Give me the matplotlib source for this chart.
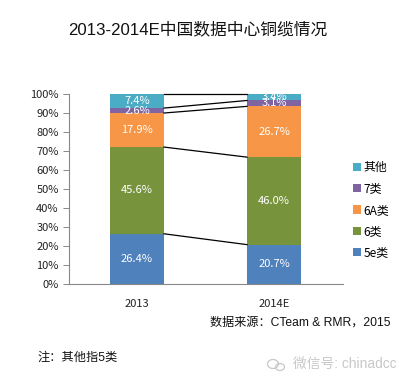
import matplotlib
matplotlib.use("Agg")
import matplotlib.pyplot as plt
from matplotlib.patches import Ellipse
import numpy as np

plt.rcParams['font.family'] = ['Noto Sans CJK SC', 'DejaVu Sans']
ARIAL = ['Liberation Sans', 'Noto Sans CJK SC']

years = ['2013', '2014E']
series = ['5e类', '6类', '6A类', '7类', '其他']
v_5e = [26.4, 20.7]
v_6 = [45.6, 46.0]
v_6a = [17.9, 26.7]
v_7 = [2.6, 3.1]
v_other = [7.4, 3.4]
yticks = [0, 10, 20, 30, 40, 50, 60, 70, 80, 90, 100]
colors = ['#4f81bd', '#77933c', '#f79646', '#8064a2', '#4bacc6']

W, H = 412, 384
fig = plt.figure(figsize=(W / 100, H / 100), dpi=100, facecolor='white')
ax = fig.add_axes([68.5 / W, 1 - 284 / H, 274 / W, 190 / H])

data = np.array([v_5e, v_6, v_6a, v_7, v_other], dtype=float)
shares = data / data.sum(axis=0) * 100
x = np.arange(len(years))
bw = 0.394
bottom = np.zeros(len(years))
for i, name in enumerate(series):
    ax.bar(x, shares[i], bw, bottom=bottom, color=colors[i], label=name, zorder=2)
    for j in x:
        ax.text(j, bottom[j] + shares[i][j] / 2, f'{data[i][j]:.1f}%', ha='center',
                va='center', color='white', fontsize=8, zorder=4)
    bottom = bottom + shares[i]
    ax.plot([x[0] + bw / 2, x[1] - bw / 2], [bottom[0], bottom[1]], color='black',
            lw=0.9, zorder=3, clip_on=False)

ax.set_xlim(-0.5, 1.5)
ax.set_ylim(0, 100)
ax.set_xticks(x, years)
ax.set_yticks(yticks, [f'{t}%' for t in yticks])
ax.tick_params(axis='y', length=4, width=0.7, color='#888888', labelsize=8, pad=3, labelcolor='#222222')
ax.tick_params(axis='x', length=0, labelsize=8, pad=11, labelcolor='#222222')
for s in ['top', 'right']:
    ax.spines[s].set_visible(False)
for s in ['left', 'bottom']:
    ax.spines[s].set_color('#888888')
    ax.spines[s].set_linewidth(0.8)

handles, labels = ax.get_legend_handles_labels()
fig.legend(handles[::-1], labels[::-1], loc='upper left', bbox_to_anchor=(353 / W, 1 - 161 / H),
           frameon=False, fontsize=8.6, handlelength=0.7, handleheight=0.7,
           handletextpad=0.2, labelspacing=0.7, borderpad=0, borderaxespad=0)

def label(px, py, s, **kw):
    fig.text(px / W, 1 - py / H, s, va='center', **kw)

label(68, 29, '2013-2014E中国数据中心铜缆情况', fontsize=12.1, color='#111111', family=ARIAL)
label(210, 323, '数据来源：CTeam & RMR，2015', fontsize=8.7, color='#111111', family=ARIAL)
label(37, 358, '注：其他指5类', fontsize=8.8, color='#111111', family=ARIAL)
label(293, 364, '微信号: chinadcc', fontsize=9.9, color='#c8c8c8', family=ARIAL)

for cx, cy, w, h in [(273, 364, 11, 9), (280, 367, 9, 7)]:
    fig.add_artist(Ellipse((cx / W, 1 - cy / H), w / W, h / H, transform=fig.transFigure,
                           fill=False, edgecolor='#c8c8c8', lw=0.9))

fig.savefig('out.png', dpi=100, facecolor='white')
